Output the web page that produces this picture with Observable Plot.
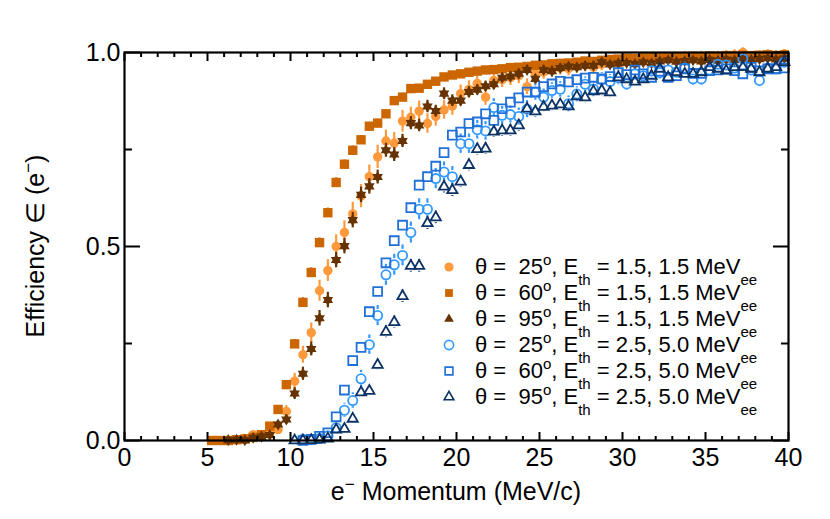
<!DOCTYPE html>
<html><head><meta charset="utf-8">
<script src="https://cdn.jsdelivr.net/npm/d3@7"></script>
<script src="https://cdn.jsdelivr.net/npm/@observablehq/plot@0.6"></script>
<style>
body{margin:0;background:#fff;}
#chart{width:830px;height:519px;}
</style>
</head><body><div id="chart"></div>
<script>
// ---------------- data ----------------
const momentum = [5.25,5.75,6.25,6.75,7.25,7.75,8.25,8.75,9.25,9.75,10.25,10.75,11.25,11.75,12.25,12.75,13.25,13.75,14.25,14.75,15.25,15.75,16.25,16.75,17.25,17.75,18.25,18.75,19.25,19.75,20.25,20.75,21.25,21.75,22.25,22.75,23.25,23.75,24.25,24.75,25.25,25.75,26.25,26.75,27.25,27.75,28.25,28.75,29.25,29.75,30.25,30.75,31.25,31.75,32.25,32.75,33.25,33.75,34.25,34.75,35.25,35.75,36.25,36.75,37.25,37.75,38.25,38.75,39.25,39.75];

// theta = 25 deg, Eth = 1.5, 1.5 MeVee
const eff25Low = [null,null,0.0,0.002,0.005,0.015,0.012,0.02,0.028,0.075,
 0.153,0.221,0.278,0.386,0.438,0.5,0.536,0.584,0.63,0.68,
 0.731,0.772,0.766,0.823,0.833,0.849,0.817,0.835,0.852,0.862,
 0.894,0.905,0.92,0.885,0.928,0.93,0.935,0.94,0.912,0.945,
 0.95,0.955,0.96,0.958,0.965,0.968,0.962,0.97,0.975,0.972,
 0.978,0.98,0.982,0.979,0.985,0.983,0.986,0.988,0.984,0.99,
 0.988,0.99,0.992,0.994,1.0,0.99,0.992,0.995,0.993,0.996];
const err25Low = [null,null,0.004,0.004,0.005,0.008,0.008,0.01,0.012,0.015,
 0.02,0.022,0.025,0.027,0.028,0.03,0.03,0.03,0.03,0.03,
 0.03,0.028,0.028,0.028,0.026,0.026,0.025,0.025,0.024,0.024,
 0.022,0.022,0.022,0.021,0.021,0.02,0.02,0.02,0.02,0.019,
 0.019,0.019,0.018,0.018,0.018,0.017,0.017,0.017,0.016,0.016,
 0.016,0.015,0.015,0.015,0.015,0.014,0.014,0.014,0.014,0.013,
 0.013,0.013,0.013,0.013,0.012,0.012,0.012,0.012,0.012,0.012];

// theta = 60 deg, Eth = 1.5, 1.5 MeVee
const eff60Low = [0.0,0.0,0.0,0.002,0.004,0.008,0.015,0.037,0.08,0.144,
 0.249,0.356,0.433,0.51,0.587,0.665,0.712,0.748,0.775,0.81,
 0.818,0.842,0.876,0.885,0.907,0.908,0.918,0.926,0.937,0.942,
 0.945,0.949,0.952,0.955,0.956,0.958,0.961,0.962,0.964,0.967,
 0.968,0.971,0.972,0.973,0.975,0.978,0.977,0.98,0.982,0.983,
 0.985,0.984,0.986,0.987,0.986,0.988,0.989,0.988,0.99,0.989,
 0.991,0.99,0.992,0.991,0.993,0.992,0.993,0.994,0.992,0.994];
const err60Low = [0.003,0.003,0.003,0.003,0.004,0.005,0.006,0.007,0.008,0.01,
 0.011,0.012,0.012,0.012,0.012,0.012,0.011,0.011,0.011,0.01,
 0.01,0.01,0.009,0.009,0.009,0.008,0.008,0.008,0.008,0.007,
 0.007,0.007,0.007,0.007,0.006,0.006,0.006,0.006,0.006,0.006,
 0.006,0.005,0.005,0.005,0.005,0.005,0.005,0.005,0.005,0.005,
 0.005,0.005,0.005,0.005,0.005,0.004,0.004,0.004,0.004,0.004,
 0.004,0.004,0.004,0.004,0.004,0.004,0.004,0.004,0.004,0.004];

// theta = 95 deg, Eth = 1.5, 1.5 MeVee
const eff95Low = [null,null,0.001,0.002,0.001,0.007,0.01,0.014,0.041,0.054,
 0.121,0.172,0.236,0.315,0.362,0.465,0.501,0.568,0.633,0.655,
 0.679,0.748,0.737,0.772,0.818,0.812,0.861,0.849,0.894,0.876,
 0.876,0.898,0.904,0.913,0.918,0.935,0.938,0.945,0.955,0.932,
 0.955,0.952,0.96,0.964,0.962,0.966,0.966,0.975,0.969,0.972,
 0.973,0.97,0.975,0.972,0.977,0.98,0.976,0.978,0.98,0.977,
 0.981,0.979,0.982,0.98,0.984,0.981,0.983,0.985,0.982,0.985];
const err95Low = [null,null,0.003,0.003,0.003,0.005,0.006,0.007,0.01,0.012,
 0.015,0.017,0.018,0.02,0.02,0.02,0.02,0.02,0.02,0.02,
 0.018,0.018,0.018,0.017,0.017,0.016,0.016,0.015,0.015,0.015,
 0.014,0.014,0.013,0.013,0.013,0.012,0.012,0.012,0.012,0.011,
 0.011,0.011,0.011,0.01,0.01,0.01,0.01,0.01,0.01,0.009,
 0.009,0.009,0.009,0.009,0.009,0.009,0.008,0.008,0.008,0.008,
 0.008,0.008,0.008,0.008,0.008,0.008,0.008,0.008,0.008,0.008];

// theta = 25 deg, Eth = 2.5, 5.0 MeVee
const eff25High = [null,null,null,null,null,null,null,null,null,null,null,
 0.003,0.002,0.005,0.012,0.033,0.078,0.103,0.159,0.247,
 0.322,0.427,0.453,0.477,0.536,0.596,0.596,0.675,0.692,0.68,
 0.765,0.765,0.801,0.798,0.858,0.838,0.84,0.835,0.854,0.898,
 0.885,0.902,0.905,0.868,0.893,0.918,0.906,0.93,0.925,0.935,
 0.919,0.945,0.94,0.953,0.948,0.955,0.95,0.96,0.932,0.932,
 0.955,0.97,0.968,0.96,0.984,0.955,0.928,0.96,0.958,0.975];
const err25High = [null,null,null,null,null,null,null,null,null,null,null,
 0.004,0.004,0.006,0.01,0.015,0.018,0.02,0.022,0.025,
 0.026,0.027,0.027,0.027,0.027,0.027,0.027,0.026,0.026,0.026,
 0.025,0.025,0.024,0.024,0.023,0.023,0.022,0.022,0.022,0.021,
 0.021,0.02,0.02,0.02,0.019,0.019,0.019,0.018,0.018,0.018,
 0.017,0.017,0.017,0.017,0.017,0.017,0.017,0.017,0.017,0.017,
 0.016,0.016,0.016,0.016,0.016,0.016,0.016,0.016,0.016,0.016];

// theta = 60 deg, Eth = 2.5, 5.0 MeVee
const eff60High = [null,null,null,null,null,null,null,null,null,null,null,
 0.0,0.003,0.011,0.02,0.061,0.13,0.206,0.24,0.332,
 0.384,0.458,0.515,0.555,0.6,0.658,0.68,0.707,0.742,0.787,
 0.795,0.817,0.821,0.842,0.825,0.855,0.872,0.883,0.898,0.898,
 0.912,0.919,0.926,0.924,0.93,0.934,0.936,0.932,0.938,0.948,
 0.943,0.955,0.945,0.936,0.952,0.936,0.94,0.958,0.946,0.946,
 0.953,0.955,0.958,0.953,0.945,0.962,0.953,0.958,0.958,0.96];

// theta = 95 deg, Eth = 2.5, 5.0 MeVee
const eff95High = [null,null,null,null,null,null,null,null,null,null,
 0.0,0.0,0.001,0.002,0.005,0.028,0.03,0.056,0.124,0.128,
 0.195,0.28,0.305,0.372,0.45,0.45,0.56,0.575,0.654,0.645,
 0.667,0.71,0.751,0.752,0.796,0.799,0.799,0.812,0.855,0.848,
 0.86,0.863,0.866,0.861,0.887,0.884,0.9,0.902,0.897,0.936,
 0.931,0.925,0.931,0.94,0.958,0.936,0.949,0.945,0.945,0.949,
 0.962,0.958,0.953,0.962,0.962,0.958,0.949,0.958,0.962,0.975];
const err95High = [null,null,null,null,null,null,null,null,null,null,
 0.003,0.003,0.003,0.004,0.005,0.008,0.008,0.01,0.012,0.012,
 0.014,0.015,0.015,0.016,0.016,0.016,0.016,0.016,0.016,0.016,
 0.015,0.015,0.015,0.015,0.015,0.015,0.015,0.015,0.015,0.015,
 0.014,0.014,0.014,0.014,0.014,0.014,0.014,0.014,0.014,0.014,
 0.013,0.013,0.013,0.013,0.013,0.013,0.013,0.013,0.013,0.013,
 0.012,0.012,0.012,0.012,0.012,0.012,0.012,0.012,0.012,0.012];

const thetaLabels = ["25", "60", "95", "25", "60", "95"];
const ethLabels = ["1.5, 1.5", "1.5, 1.5", "1.5, 1.5", "2.5, 5.0", "2.5, 5.0", "2.5, 5.0"];
const xMajorTicks = [0, 5, 10, 15, 20, 25, 30, 35, 40];
const xMinorTicks = [1,2,3,4,6,7,8,9,11,12,13,14,16,17,18,19,21,22,23,24,26,27,28,29,31,32,33,34,36,37,38,39];
const yMajorTicks = [0, 0.5, 1.0];
const yMinorTicks = [0.25, 0.75];

// ---------------- styles ----------------
const series = [
  {eff: eff25Low,  err: err25Low,  color: "#ff9a3c", symbol: "circle",   filled: true,  r: 4.7},
  {eff: eff60Low,  err: err60Low,  color: "#cc6600", symbol: "square",   filled: true,  r: 5.3},
  {eff: eff95Low,  err: err95Low,  color: "#663300", symbol: "star",     filled: true,  r: 3.9},
  {eff: eff25High, err: err25High, color: "#3399ff", symbol: "circle",   filled: false, r: 4.6},
  {eff: eff60High, err: null,      color: "#2070d8", symbol: "square",   filled: false, r: 5.0},
  {eff: eff95High, err: err95High, color: "#0d3366", symbol: "triangle", filled: false, r: 3.8}
];

const W = 830, H = 519, mL = 124, mR = 42, mT = 52, mB = 79;
const pxPerY = H - mT - mB;
const FONT = "'Liberation Sans', Arial, Helvetica, sans-serif";

const marks = [];
series.forEach((s) => {
  const rows = momentum.map((p, i) => ({p, e: s.eff[i], err: s.err ? s.err[i] : 0})).filter(d => d.e != null);
  if (s.err) {
    const gap = s.filled ? 0 : (s.r + 1.5) / pxPerY;
    marks.push(Plot.ruleX(rows.filter(d => d.err > gap), {x: "p", y1: d => d.e - d.err, y2: d => d.e - gap, stroke: s.color, strokeWidth: 2.2}));
    marks.push(Plot.ruleX(rows.filter(d => d.err > gap), {x: "p", y1: d => d.e + gap, y2: d => d.e + d.err, stroke: s.color, strokeWidth: 2.2}));
  }
  if (s.symbol === "star") {
    marks.push(Plot.dot(rows, {x: "p", y: "e", symbol: "triangle", r: s.r, fill: s.color, stroke: "none"}));
    marks.push(Plot.dot(rows, {x: "p", y: "e", symbol: "triangle", r: s.r, fill: s.color, stroke: "none", rotate: 180}));
  } else if (s.filled) {
    marks.push(Plot.dot(rows, {x: "p", y: "e", symbol: s.symbol, r: s.r, fill: s.color, stroke: "none"}));
  } else {
    marks.push(Plot.dot(rows, {x: "p", y: "e", symbol: s.symbol, r: s.r, fill: "none", stroke: s.color, strokeWidth: 1.8}));
  }
});

const axisCommon = {label: null, strokeWidth: 2, fontSize: 25};
const plot = Plot.plot({
  width: W, height: H,
  marginLeft: mL, marginRight: mR, marginTop: mT, marginBottom: mB,
  style: {fontFamily: FONT, background: "#fff", color: "#000", overflow: "visible"},
  x: {domain: [0, 40], label: null},
  y: {domain: [0, 1], label: null},
  marks: [
    ...marks,
    Plot.axisX({...axisCommon, anchor: "bottom", ticks: xMajorTicks, tickSize: -8, tickPadding: 16, tickFormat: d => String(d)}),
    Plot.axisX({...axisCommon, anchor: "bottom", ticks: xMinorTicks, tickSize: -4, tickFormat: () => ""}),
    Plot.axisX({...axisCommon, anchor: "top", ticks: xMajorTicks, tickSize: -8, tickFormat: () => ""}),
    Plot.axisX({...axisCommon, anchor: "top", ticks: xMinorTicks, tickSize: -4, tickFormat: () => ""}),
    Plot.axisY({...axisCommon, anchor: "left", ticks: yMajorTicks, tickSize: -16, tickPadding: 20, tickFormat: d3.format(".1f")}),
    Plot.axisY({...axisCommon, anchor: "left", ticks: yMinorTicks, tickSize: -8, tickFormat: () => ""}),
    Plot.axisY({...axisCommon, anchor: "right", ticks: yMajorTicks, tickSize: -16, tickFormat: () => ""}),
    Plot.axisY({...axisCommon, anchor: "right", ticks: yMinorTicks, tickSize: -8, tickFormat: () => ""}),
    Plot.frame({stroke: "#000", strokeWidth: 2.2})
  ]
});
document.getElementById("chart").appendChild(plot);

// ---------------- titles & legend (layout elements) ----------------
const svg = d3.select(plot);
const yTitle = svg.append("text")
  .attr("transform", `translate(44,${mT + (H - mT - mB) / 2}) rotate(-90)`)
  .attr("text-anchor", "middle").attr("font-size", 25).attr("font-family", FONT).attr("fill", "#000");
yTitle.append("tspan").text("Efficiency \u2208 (e");
yTitle.append("tspan").attr("dy", -10).attr("font-size", 17).text("\u2212");
yTitle.append("tspan").attr("dy", 10).text(")");

const xTitle = svg.append("text")
  .attr("x", mL + (W - mL - mR) / 2).attr("y", 500)
  .attr("text-anchor", "middle").attr("font-size", 25).attr("font-family", FONT).attr("fill", "#000");
xTitle.append("tspan").text("e");
xTitle.append("tspan").attr("dy", -10).attr("font-size", 17).text("\u2212");
xTitle.append("tspan").attr("dy", 10).text(" Momentum (MeV/c)");

const legend = svg.append("g").attr("font-family", FONT).attr("fill", "#000").attr("text-anchor", "start");
const symArea = r => Math.PI * r * r;
series.forEach((s, i) => {
  const cy = 267 + i * 26;
  const g = legend.append("g").attr("transform", `translate(449,${cy})`);
  const type = s.symbol === "circle" ? d3.symbolCircle : s.symbol === "square" ? d3.symbolSquare : d3.symbolTriangle;
  const r = s.symbol === "square" ? 4.4 : s.symbol === "circle" ? 4.6 : 3.6;
  g.append("path").attr("d", d3.symbol(type, symArea(r))())
    .attr("fill", s.filled ? s.color : "none")
    .attr("stroke", s.filled ? "none" : s.color)
    .attr("stroke-width", 1.6);
  const t = legend.append("text").attr("x", 475).attr("y", cy + 7)
    .attr("text-anchor", "start")
    .attr("font-size", 22).style("white-space", "pre");
  t.append("tspan").text("\u03b8 =  " + thetaLabels[i]);
  t.append("tspan").attr("dy", -9).attr("font-size", 15).text("o");
  t.append("tspan").attr("dy", 9).text(", E");
  t.append("tspan").attr("dy", 11).attr("font-size", 15).text("th");
  t.append("tspan").attr("dy", -11).text(" = " + ethLabels[i] + " MeV");
  t.append("tspan").attr("dy", 11).attr("font-size", 15).text("ee");
});
</script>
</body></html>
